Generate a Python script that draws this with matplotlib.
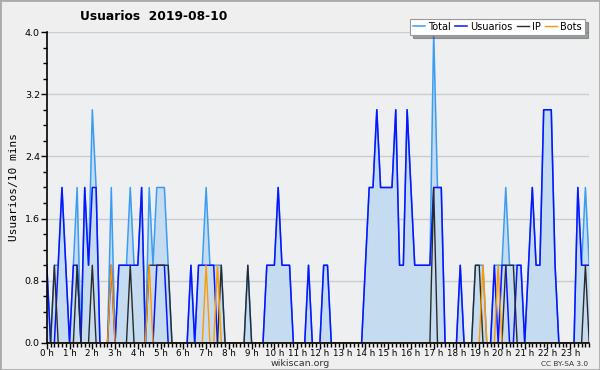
import numpy as np
import matplotlib.pyplot as plt
from matplotlib.ticker import MultipleLocator, FixedLocator

# 10-minute slots, 6 per hour, 0 h .. 23 h 50
usuarios = [
    1, 0, 0, 1, 2, 1,  0, 1, 1, 0, 2, 1,  2, 2, 0, 0, 0, 1,  0, 1, 1, 1, 1, 1,
    1, 2, 0, 0, 0, 1,  1, 1, 0, 0, 0, 0,  0, 0, 1, 0, 1, 1,  1, 1, 1, 0, 0, 0,
    0, 0, 0, 0, 0, 0,  0, 0, 0, 0, 1, 1,  1, 2, 1, 1, 1, 0,  0, 0, 0, 1, 0, 0,
    0, 1, 1, 0, 0, 0,  0, 0, 0, 0, 0, 0,  1, 2, 2, 3, 2, 2,  2, 2, 3, 1, 1, 3,
    2, 1, 1, 1, 1, 1,  2, 2, 2, 0, 0, 0,  0, 1, 0, 0, 0, 0,  0, 0, 0, 0, 1, 0,
    1, 1, 0, 0, 1, 1,  0, 1, 2, 1, 1, 3,  3, 3, 1, 0, 0, 0,  0, 0, 2, 1, 1, 1,
]
ip = [
    0, 0, 1, 0, 0, 0,  0, 0, 1, 0, 0, 0,  1, 0, 0, 0, 0, 0,  0, 0, 0, 0, 1, 0,
    0, 0, 0, 1, 1, 1,  1, 1, 1, 0, 0, 0,  0, 0, 0, 0, 0, 0,  0, 0, 0, 0, 1, 0,
    0, 0, 0, 0, 0, 1,  0, 0, 0, 0, 0, 0,  0, 0, 0, 0, 0, 0,  0, 0, 0, 0, 0, 0,
    0, 0, 0, 0, 0, 0,  0, 0, 0, 0, 0, 0,  0, 0, 0, 0, 0, 0,  0, 0, 0, 0, 0, 0,
    0, 0, 0, 0, 0, 0,  2, 0, 0, 0, 0, 0,  0, 0, 0, 0, 0, 1,  1, 0, 0, 0, 0, 0,
    0, 1, 1, 1, 0, 0,  0, 0, 0, 0, 0, 0,  0, 0, 0, 0, 0, 0,  0, 0, 0, 0, 1, 0,
]
bots = [
    0, 0, 0, 0, 0, 0,  0, 0, 0, 0, 0, 0,  0, 0, 0, 0, 0, 1,  0, 0, 0, 0, 0, 0,
    0, 0, 0, 1, 0, 0,  0, 0, 0, 0, 0, 0,  0, 0, 0, 0, 0, 0,  1, 0, 0, 1, 0, 0,
    0, 0, 0, 0, 0, 0,  0, 0, 0, 0, 0, 0,  0, 0, 0, 0, 0, 0,  0, 0, 0, 0, 0, 0,
    0, 0, 0, 0, 0, 0,  0, 0, 0, 0, 0, 0,  0, 0, 0, 0, 0, 0,  0, 0, 0, 0, 0, 0,
    0, 0, 0, 0, 0, 0,  0, 0, 0, 0, 0, 0,  0, 0, 0, 0, 0, 0,  0, 1, 0, 0, 0, 1,
    0, 0, 0, 0, 0, 0,  0, 0, 0, 0, 0, 0,  0, 0, 0, 0, 0, 0,  0, 0, 0, 0, 0, 0,
]
total = [
    1, 0, 1, 1, 2, 1,  0, 1, 2, 0, 2, 1,  3, 2, 0, 0, 0, 2,  0, 1, 1, 1, 2, 1,
    1, 2, 0, 2, 1, 2,  2, 2, 1, 0, 0, 0,  0, 0, 1, 0, 1, 1,  2, 1, 1, 1, 1, 0,
    0, 0, 0, 0, 0, 1,  0, 0, 0, 0, 1, 1,  1, 2, 1, 1, 1, 0,  0, 0, 0, 1, 0, 0,
    0, 1, 1, 0, 0, 0,  0, 0, 0, 0, 0, 0,  1, 2, 2, 3, 2, 2,  2, 2, 3, 1, 1, 3,
    2, 1, 1, 1, 1, 1,  4, 2, 2, 0, 0, 0,  0, 1, 0, 0, 0, 1,  1, 1, 0, 0, 1, 1,
    1, 2, 1, 1, 1, 1,  0, 1, 2, 1, 1, 3,  3, 3, 1, 0, 0, 0,  0, 0, 2, 1, 2, 1,
]
hour_labels = ["%d h" % h for h in range(24)]

x = np.arange(len(total))

fig = plt.figure(figsize=(6, 3.7), dpi=100, facecolor="#efefef")
ax = fig.add_axes([0.078, 0.073, 0.904, 0.8405])
ax.set_facecolor("#eeeff1")

ax.fill_between(x, total, color="#c5dcf0", lw=0)
ax.plot(x, total, color="#3b9cf4", lw=1.1, label="Total")
ax.plot(x, usuarios, color="#0a14ff", lw=1.1, label="Usuarios")
ax.plot(x, ip, color="#2a2a2a", lw=1.0, label="IP")
ax.plot(x, bots, color="#ff9900", lw=1.0, label="Bots")

ax.set_xlim(0, 143)
ax.set_ylim(0, 4.0)
yt = np.arange(0, 4.01, 0.8)
ax.set_yticks(yt)
ax.set_yticklabels(["%.1f" % v for v in yt])
ax.yaxis.set_minor_locator(MultipleLocator(0.2))
ax.xaxis.set_major_locator(FixedLocator(np.arange(0, 144, 6)))
ax.xaxis.set_minor_locator(MultipleLocator(1))
ax.set_xticklabels(hour_labels)
ax.grid(axis="y", color="#cccccc", lw=1)
ax.set_axisbelow(True)

for side in ["top", "right"]:
    ax.spines[side].set_visible(False)
ax.spines["left"].set_linewidth(1.2)
ax.spines["bottom"].set_linewidth(1.2)
ax.tick_params(axis="both", which="major", length=4, width=1, labelsize=6.8, pad=1)
ax.tick_params(axis="x", which="major", labelsize=6.3, pad=0.5)
ax.tick_params(axis="both", which="minor", length=3, width=1)

ax.set_ylabel("Usuarios/10 mins", family="DejaVu Sans Mono", fontsize=8, labelpad=4)
fig.text(0.133, 0.956, "Usuarios  2019-08-10", fontsize=8.8, fontweight="bold", ha="left", va="center")
fig.text(0.5, 0.017, "wikiscan.org", fontsize=6.8, ha="center", va="center", color="#333333")
fig.text(0.981, 0.017, "CC BY-SA 3.0", fontsize=5.3, ha="right", va="center", color="#333333")

leg = fig.legend(loc="upper right", bbox_to_anchor=(0.983, 0.962), ncol=4, fontsize=7,
                 frameon=True, fancybox=False, shadow=True, handlelength=1.2,
                 handletextpad=0.35, columnspacing=0.45, borderpad=0.3)
leg.get_frame().set_edgecolor("#999999")
leg.get_frame().set_linewidth(0.8)

# outer frame
fig.patches.append(plt.Rectangle((0, 0), 1, 1, transform=fig.transFigure, fill=False,
                                 edgecolor="#aaaaaa", lw=2))

fig.savefig("out.png", dpi=100, facecolor=fig.get_facecolor())
